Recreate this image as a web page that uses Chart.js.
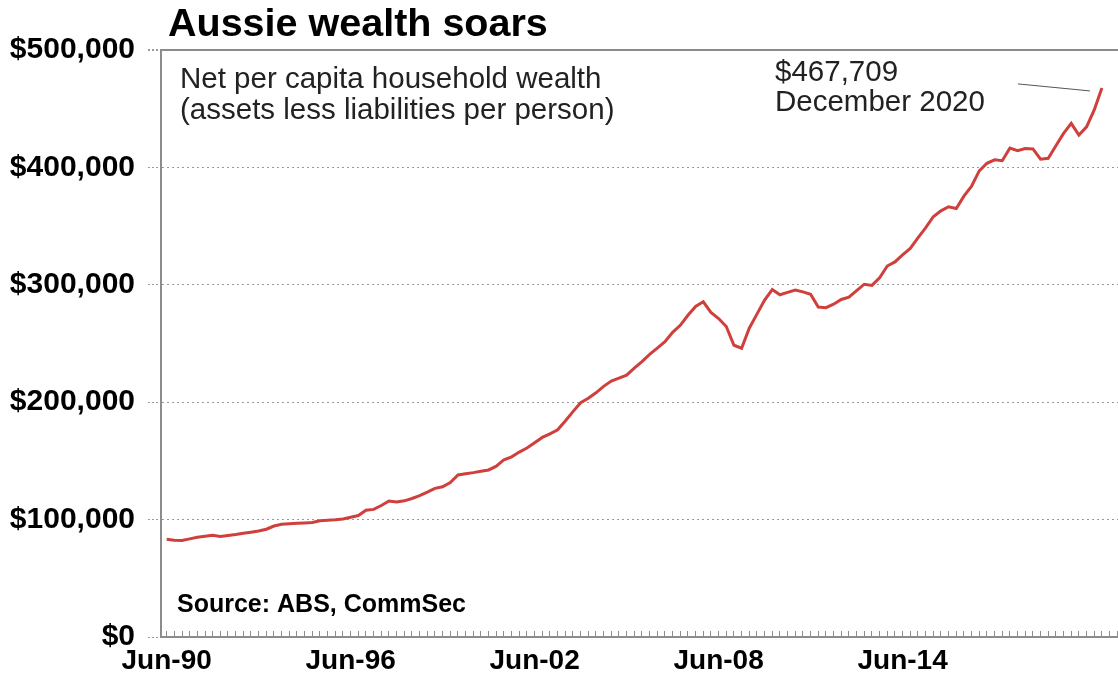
<!DOCTYPE html>
<html>
<head>
<meta charset="utf-8">
<script src="https://cdn.jsdelivr.net/npm/chart.js@4.4.1/dist/chart.umd.min.js"></script>
<style>
  html, body { margin: 0; padding: 0; background: #fff; }
  #wrap { width: 1118px; height: 675px; }
</style>
</head>
<body>
<div id="wrap"><canvas id="wealth" width="1118" height="675"></canvas></div>
<script>
// net household wealth per person, quarterly, Jun-90 .. Dec-20
var months = ['Mar', 'Jun', 'Sep', 'Dec'];
var firstYear = 1990, firstQtr = 1, lastYear = 2020, lastQtr = 3;

var wealth = [
  83200, 82500, 82200, 83600, 85000, 85800, 86600, 85700, 86500, 87300,
  88300, 89300, 90300, 91800, 94500, 96000, 96500, 96900, 97200, 97500,
  99000, 99400, 99800, 100500, 102000,
  103500, 108000, 108700, 112000, 115800, 115000, 116000, 118000, 120500, 123400,
  126600, 128000, 131500, 138000, 139000, 140000, 141200, 142300, 145500, 151000,
  153500, 157500, 161000, 165500, 170000, 173000, 176500,
  184000, 192000, 199500, 203300, 208000, 213500, 218000, 220500, 223000, 229000,
  234500, 240700, 246000, 251500, 259500, 265500, 274000, 281500, 285500, 276500,
  271300, 264500, 248500, 246000, 263000, 275000,
  287000, 296000, 291500, 293500, 295500, 294000, 292000, 281000, 280500, 283500,
  287500, 289500, 295000, 300500, 299500, 306000, 316000, 319500,
  325500, 331000, 340000, 348500, 358000, 363000, 366500, 365000, 375500, 384000,
  397000, 403500, 406500, 405700, 416500, 414300, 416000, 415700, 407000, 407800,
  418500, 429000, 437500, 427500, 434500, 449000, 467709
];

var xTickLabels = ['Jun-90', 'Jun-96', 'Jun-02', 'Jun-08', 'Jun-14'];
var yTicks = [0, 100000, 200000, 300000, 400000, 500000];

var quarters = [];
for (var y = firstYear; y <= lastYear; y++) {
  for (var q = 0; q < 4; q++) {
    if (y === firstYear && q < firstQtr) continue;
    if (y === lastYear && q > lastQtr) break;
    quarters.push(months[q] + '-' + String(y).slice(2));
  }
}

var points = wealth.map(function (v, i) { return { x: i, y: v }; });

var FONT = "'Liberation Sans', Arial, sans-serif";
var GREY = '#8c8c8c';

// title, notes and the pointer to the latest reading
var notes = {
  id: 'notes',
  afterDraw: function (chart) {
    var ctx = chart.ctx;
    var xs = chart.scales.x, ys = chart.scales.y;
    var last = wealth.length - 1;
    var px = xs.getPixelForValue(last), py = ys.getPixelForValue(wealth[last]);

    ctx.save();
    ctx.fillStyle = '#000';
    ctx.textBaseline = 'alphabetic';
    ctx.textAlign = 'left';

    ctx.font = 'bold 39.5px ' + FONT;
    ctx.fillText('Aussie wealth soars', 168, 36);

    ctx.fillStyle = '#222';
    ctx.font = '29.5px ' + FONT;
    ctx.fillText('Net per capita household wealth', 180, 88);
    ctx.fillText('(assets less liabilities per person)', 180, 119);

    ctx.fillText('$' + wealth[last].toLocaleString('en-US'), 775, 81);
    ctx.fillText('December 2020', 775, 111);

    ctx.fillStyle = '#000';
    ctx.font = 'bold 25px ' + FONT;
    ctx.fillText('Source: ABS, CommSec', 177, 612);

    ctx.strokeStyle = '#555';
    ctx.lineWidth = 1;
    ctx.beginPath();
    ctx.moveTo(px - 84, py - 4);
    ctx.lineTo(px - 12, py + 3);
    ctx.stroke();
    ctx.restore();
  }
};

var chart = new Chart('wealth', {
  type: 'line',
  data: {
    labels: quarters,
    datasets: [{
      label: 'Net per capita household wealth',
      data: points,
      borderColor: '#cf3f3b',
      borderWidth: 3,
      pointRadius: 0,
      tension: 0,
      fill: false
    }]
  },
  options: {
    responsive: false,
    animation: false,
    devicePixelRatio: 1,
    layout: { padding: { top: 50, right: 0, bottom: 0, left: 0 } },
    plugins: { legend: { display: false }, tooltip: { enabled: false } },
    scales: {
      x: {
        type: 'linear',
        min: -0.74,
        max: 124.1,
        afterFit: function (s) {
          s.height = 38;
          s.paddingLeft = 0;
          s.paddingRight = 0;
        },
        grid: {
          drawOnChartArea: false,
          tickLength: -6,
          tickColor: GREY,
          tickWidth: 1
        },
        border: { color: GREY, width: 2 },
        ticks: {
          stepSize: 1,
          includeBounds: false,
          autoSkip: false,
          maxRotation: 0,
          maxTicksLimit: 500,
          padding: 13,
          color: '#000',
          font: { family: FONT, size: 28, weight: 'bold' },
          callback: function (v) {
            var lab = quarters[v];
            return xTickLabels.indexOf(lab) >= 0 ? lab : '';
          }
        }
      },
      y: {
        min: 0,
        max: 500000,
        afterFit: function (s) { s.width = 161; },
        afterBuildTicks: function (s) {
          s.ticks = yTicks.map(function (v) { return { value: v }; });
        },
        grid: {
          color: function (c) {
            if (!c.tick || c.tick.value === 0) return 'rgba(0,0,0,0)';
            return c.tick.value === 500000 ? GREY : '#9a9a9a';
          },
          lineWidth: function (c) { return c.tick && c.tick.value === 500000 ? 2 : 1; },
          tickLength: 13,
          tickColor: '#9a9a9a',
          tickBorderDash: [2, 2]
        },
        border: {
          color: GREY,
          width: 2,
          dash: function (c) { return c.tick && c.tick.value === 500000 ? [] : [2, 3]; }
        },
        ticks: {
          padding: 13,
          color: '#000',
          font: { family: FONT, size: 30, weight: 'bold' },
          callback: function (v) { return '$' + v.toLocaleString('en-US'); }
        }
      }
    }
  },
  plugins: [notes]
});
</script>
</body>
</html>
